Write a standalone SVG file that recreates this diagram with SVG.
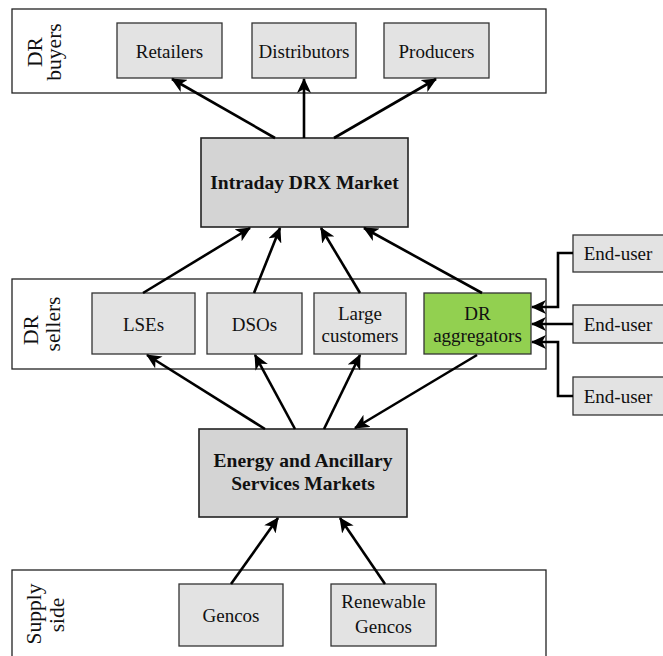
<svg xmlns="http://www.w3.org/2000/svg" width="663" height="656" viewBox="0 0 663 656">
<style>
.cont{fill:#ffffff;stroke:#222;stroke-width:1.3}
.box{fill:#e3e3e3;stroke:#333;stroke-width:1.3}
.mkt{fill:#d4d4d4;stroke:#222;stroke-width:1.6}
.green{fill:#92d050;stroke:#333;stroke-width:1.3}
text{font-family:"Liberation Serif","Times New Roman",serif;font-size:19px;fill:#111;text-anchor:middle}
.b{font-weight:bold;font-size:19.5px}
.lab{font-size:21.5px}
.conn{stroke:#000;stroke-width:2.6;fill:none;marker-end:url(#ah)}
</style>
<defs>
<marker id="ah" markerUnits="userSpaceOnUse" markerWidth="16" markerHeight="14" refX="14" refY="7" orient="auto">
<path d="M0,0 L15,7 L0,14 L4,7 z" fill="#000"/>
</marker>
</defs>
<rect width="663" height="656" fill="#fff"/>

<g id="buyers">
<rect class="cont" x="12" y="9" width="534" height="84"/>
<text class="lab" transform="translate(42,52) rotate(-90)">DR</text>
<text class="lab" transform="translate(61,52) rotate(-90)">buyers</text>
</g>
<g id="retailers"><rect class="box" x="117" y="23" width="105" height="55"/><text x="169.5" y="58">Retailers</text></g>
<g id="distributors"><rect class="box" x="252" y="23" width="104" height="55"/><text x="304" y="58">Distributors</text></g>
<g id="producers"><rect class="box" x="384" y="23" width="105" height="55"/><text x="436.5" y="58">Producers</text></g>

<g id="intraday"><rect class="mkt" x="201" y="138" width="207" height="89"/><text class="b" x="304.5" y="189">Intraday DRX Market</text></g>

<g id="sellers">
<rect class="cont" x="12" y="279" width="534" height="90"/>
<text class="lab" transform="translate(38,330) rotate(-90)">DR</text>
<text class="lab" transform="translate(60,324) rotate(-90)">sellers</text>
</g>
<g id="lses"><rect class="box" x="92" y="293" width="103" height="61"/><text x="143.5" y="331">LSEs</text></g>
<g id="dsos"><rect class="box" x="207" y="293" width="95" height="61"/><text x="254.5" y="331">DSOs</text></g>
<g id="large"><rect class="box" x="314" y="293" width="92" height="61"/><text x="360" y="320">Large</text><text x="360" y="342">customers</text></g>
<g id="aggregators"><rect class="green" x="424" y="293" width="107" height="61"/><text x="477.5" y="320">DR</text><text x="477.5" y="342">aggregators</text></g>

<g id="enduser1"><rect class="box" x="573" y="235" width="100" height="37"/><text x="618" y="260">End-user</text></g>
<g id="enduser2"><rect class="box" x="573" y="305" width="100" height="38"/><text x="618" y="331">End-user</text></g>
<g id="enduser3"><rect class="box" x="573" y="377" width="100" height="38"/><text x="618" y="403">End-user</text></g>

<g id="energy"><rect class="mkt" x="199" y="429" width="208" height="88"/><text class="b" x="303" y="467">Energy and Ancillary</text><text class="b" x="303" y="490">Services Markets</text></g>

<g id="supply">
<rect class="cont" x="12" y="570" width="534" height="100"/>
<text class="lab" transform="translate(41,614) rotate(-90)">Supply</text>
<text class="lab" transform="translate(64,615) rotate(-90)">side</text>
</g>
<g id="gencos"><rect class="box" x="179" y="584" width="104" height="62"/><text x="231" y="622">Gencos</text></g>
<g id="renewable"><rect class="box" x="331" y="584" width="105" height="62"/><text x="383.5" y="608">Renewable</text><text x="383.5" y="633">Gencos</text></g>

<g id="connectors">
<line class="conn" x1="275" y1="138" x2="172" y2="79"/>
<line class="conn" x1="304" y1="138" x2="304" y2="79"/>
<line class="conn" x1="334" y1="138" x2="436" y2="79"/>
<line class="conn" x1="143" y1="293" x2="250" y2="228"/>
<line class="conn" x1="254" y1="293" x2="280" y2="228"/>
<line class="conn" x1="360" y1="293" x2="321" y2="228"/>
<line class="conn" x1="482" y1="293" x2="364" y2="228"/>
<line class="conn" x1="265" y1="429" x2="147" y2="355"/>
<line class="conn" x1="295" y1="429" x2="255" y2="355"/>
<line class="conn" x1="324" y1="429" x2="360" y2="355"/>
<line class="conn" x1="477" y1="355" x2="355" y2="428"/>
<line class="conn" x1="231" y1="584" x2="278" y2="518"/>
<line class="conn" x1="385" y1="584" x2="340" y2="518"/>
<polyline class="conn" points="573,253 558,253 558,307 532,307"/>
<line class="conn" x1="573" y1="324" x2="532" y2="324"/>
<polyline class="conn" points="573,396 558,396 558,342 532,342"/>
</g>
</svg>
